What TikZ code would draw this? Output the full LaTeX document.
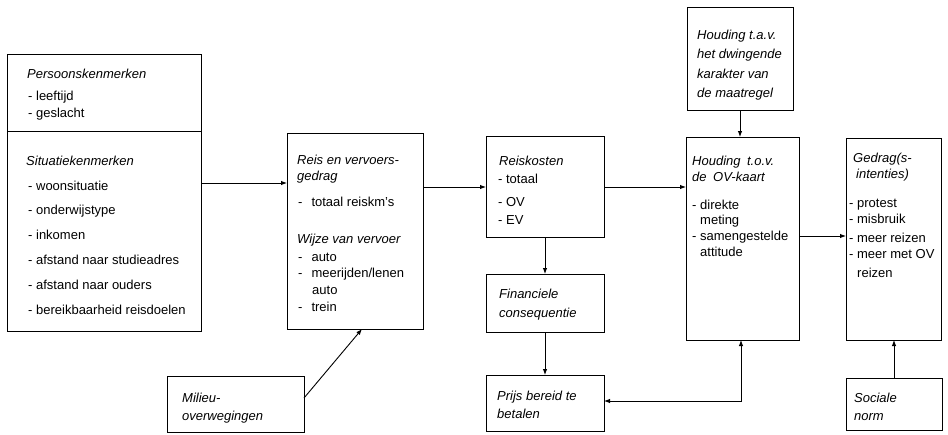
\documentclass[tikz,border=0pt]{standalone}
\usepackage{fontspec}
\setmainfont{Liberation Sans}
\usetikzlibrary{arrows.meta,calc}
\begin{document}
\begin{tikzpicture}[x=1pt,y=-1pt,
  box/.style={draw, line width=1pt, rectangle, inner sep=0pt, outer sep=0pt, anchor=north west},
  txt/.style={anchor=base west, inner sep=0pt, font=\fontsize{13}{16}\selectfont},
  arr/.style={line width=0.9pt, -{Latex[length=6pt,width=4.5pt]}},
  darr/.style={line width=0.9pt, {Latex[length=6pt,width=4.5pt]}-{Latex[length=6pt,width=4.5pt]}}
]
\useasboundingbox (0,0) rectangle (948,434);

% boxes
\node[box, minimum width=194pt, minimum height=277pt] (pers) at (7,54) {};
\node[box, minimum width=136pt, minimum height=196pt] (reis) at (287,133) {};
\node[box, minimum width=118pt, minimum height=101pt] (kost) at (486,136) {};
\node[box, minimum width=118pt, minimum height=58pt] (fin) at (486,274) {};
\node[box, minimum width=118pt, minimum height=56pt] (prijs) at (486,375) {};
\node[box, minimum width=106pt, minimum height=103pt] (dwing) at (687,7) {};
\node[box, minimum width=113pt, minimum height=203pt] (houd) at (686,137) {};
\node[box, minimum width=95pt, minimum height=202pt] (gedrag) at (846,138) {};
\node[box, minimum width=137pt, minimum height=56pt] (milieu) at (167,376) {};
\node[box, minimum width=96pt, minimum height=52pt] (sociaal) at (846,378) {};

% divider in left box
\draw[line width=1pt] ($(pers.north west)+(0,77)$) -- ($(pers.north east)+(0,77)$);

% helper coordinates
\coordinate (y183) at (0,183);
\coordinate (y187) at (0,187);
\coordinate (y236) at (0,236);
\coordinate (y398) at (0,398);
\coordinate (y401) at (0,401);
\coordinate (x362) at (362,0);
\coordinate (x741) at (741,0);

% connectors
\draw[arr] (pers.east |- y183) -- (reis.west |- y183);
\draw[arr] (reis.east |- y187) -- (kost.west |- y187);
\draw[arr] (kost.east |- y187) -- (houd.west |- y187);
\draw[arr] (kost.south) -- (fin.north);
\draw[arr] (fin.south) -- (prijs.north);
\draw[arr] (dwing.south) -- (dwing.south |- houd.north);
\draw[arr] (houd.east |- y236) -- (gedrag.west |- y236);
\draw[arr] (sociaal.north) -- (sociaal.north |- gedrag.south);
\draw[arr] (milieu.east |- y398) -- (reis.south -| x362);
\draw[darr] (prijs.east |- y401) -| (houd.south -| x741);

% texts: left box
\node[txt] (p1) at (27,78) {\itshape Persoonskenmerken};
\node[txt] (p2) at (28,100) {- leeftijd};
\node[txt] (p3) at (28,117) {- geslacht};
\node[txt] (p4) at (26,165) {\itshape Situatiekenmerken};
\node[txt] (p5) at (28,190) {- woonsituatie};
\node[txt] (p6) at (28,214) {- onderwijstype};
\node[txt] (p7) at (28,239) {- inkomen};
\node[txt] (p8) at (28,264) {- afstand naar studieadres};
\node[txt] (p9) at (28,289) {- afstand naar ouders};
\node[txt] (p10) at (28,314) {- bereikbaarheid reisdoelen};

% reis
\node[txt] (r1) at (297,164) {\itshape Reis en vervoers-};
\node[txt] (r2) at (297,180) {\itshape gedrag};
\node[txt] (r3) at (298,206) {-\hspace{9pt}totaal reiskm's};
\node[txt] (r4) at (297,243) {\itshape Wijze van vervoer};
\node[txt] (r5) at (298,261) {-\hspace{9pt}auto};
\node[txt] (r6) at (298,277) {-\hspace{9pt}meerijden/lenen};
\node[txt] (r7) at (312,294) {auto};
\node[txt] (r8) at (298,311) {-\hspace{9pt}trein};

% reiskosten
\node[txt] (k1) at (499,165) {\itshape Reiskosten};
\node[txt] (k2) at (498,183) {- totaal};
\node[txt] (k3) at (498,206) {- OV};
\node[txt] (k4) at (498,224) {- EV};

% financiele
\node[txt] (f1) at (499,298) {\itshape Financiele};
\node[txt] (f2) at (499,317) {\itshape consequentie};

% prijs
\node[txt] (b1) at (497,400) {\itshape Prijs bereid te};
\node[txt] (b2) at (497,418) {\itshape betalen};

% dwingende
\node[txt] (d1) at (697,39) {\itshape Houding t.a.v.};
\node[txt] (d2) at (697,58) {\itshape het dwingende};
\node[txt] (d3) at (697,78) {\itshape karakter van};
\node[txt] (d4) at (697,97) {\itshape de maatregel};

% houding OV
\node[txt] (h1) at (692,165) {\itshape Houding\enspace t.o.v.};
\node[txt] (h2) at (692,181) {\itshape de\enspace OV-kaart};
\node[txt] (h3) at (692,209) {- direkte};
\node[txt] (h4) at (700,224) {meting};
\node[txt] (h5) at (692,240) {- samengestelde};
\node[txt] (h6) at (700,256) {attitude};

% gedrag
\node[txt] (g1) at (853,162) {\itshape Gedrag(s-};
\node[txt] (g2) at (856,178) {\itshape intenties)};
\node[txt] (g3) at (849,207) {- protest};
\node[txt] (g4) at (849,223) {- misbruik};
\node[txt] (g5) at (849,242) {- meer reizen};
\node[txt] (g6) at (849,258) {- meer met OV};
\node[txt] (g7) at (857,277) {reizen};

% milieu
\node[txt] (m1) at (182,402) {\itshape Milieu-};
\node[txt] (m2) at (182,420) {\itshape overwegingen};

% sociale
\node[txt] (s1) at (854,402) {\itshape Sociale};
\node[txt] (s2) at (854,420) {\itshape norm};
\end{tikzpicture}
\end{document}
